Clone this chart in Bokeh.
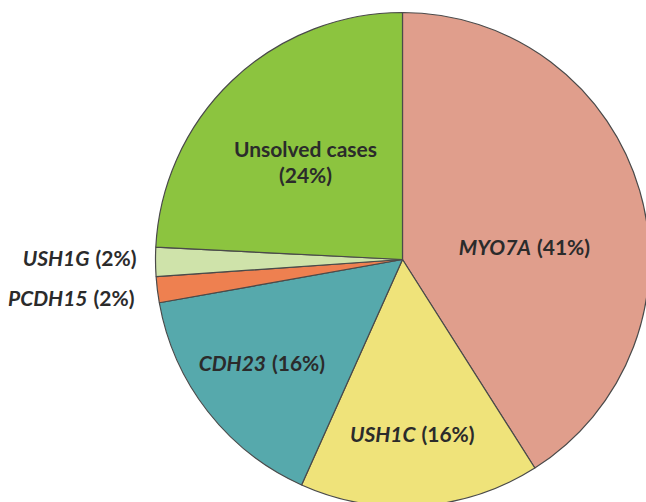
import math
from bokeh.plotting import figure
from bokeh.models import ColumnDataSource
from bokeh.core.properties import value
from bokeh.embed import file_html
from bokeh.resources import INLINE

# ---- data ----
genes = ["MYO7A", "USH1C", "CDH23", "PCDH15", "USH1G", "Unsolved cases"]
shares = [41.0, 15.7, 15.5, 1.7, 1.9, 24.2]          # slice sizes
label_pct = ["(41%)", "(16%)", "(16%)", "(2%)", "(2%)", "(24%)"]
colors = ["#E09E8C", "#EFE37A", "#56A9AC", "#EE8050", "#CFE3AA", "#8CC43F"]

# ---- layout (unit circle, radius 1 = 247 px) ----
W, H = 646, 502
R_PX = 247.0
CX, CY = 402.0, 259.0
x0, x1 = -CX / R_PX, (W - CX) / R_PX
y1, y0 = CY / R_PX, -(H - CY) / R_PX

total = sum(shares)
starts, ends = [], []
acc = 0.0
for s in shares:
    a0 = acc / total * 2 * math.pi
    acc += s
    a1 = acc / total * 2 * math.pi
    starts.append(math.pi / 2 - a0)
    ends.append(math.pi / 2 - a1)

src = ColumnDataSource(dict(start=starts, end=ends, color=colors, gene=genes))

p = figure(width=W, height=H, x_range=(x0, x1), y_range=(y0, y1),
           output_backend="svg", toolbar_location=None, min_border=0,
           background_fill_color="white", border_fill_color="white")
p.axis.visible = False
p.grid.visible = False
p.outline_line_color = None

p.wedge(x=0, y=0, radius=1.0, start_angle="start", end_angle="end",
        direction="clock", fill_color="color", line_color="#4a4a4a",
        line_width=1.2, source=src)

FONT = value("Lato")
TXT = "#2b2b2b"
FS = "21px"

def px(xp, yp):
    return ((xp - CX) / R_PX, (CY - yp) / R_PX)

# split-point label placement (gene italic to the left, percent upright to the right)
split_pts = {"MYO7A": (533.5, 246), "USH1C": (418, 433), "CDH23": (268.5, 362),
             "USH1G": (92, 257), "PCDH15": (90, 297)}
gx, gy, gt, qx, qy, qt = [], [], [], [], [], []
for g, pct in zip(genes, label_pct):
    if g in split_pts:
        sx, sy = split_pts[g]
        a, b = px(sx - 3, sy)
        c, d = px(sx + 3, sy)
        gx.append(a); gy.append(b); gt.append(g)
        qx.append(c); qy.append(d); qt.append(pct)

p.text(x=gx, y=gy, text=gt, text_align="right", text_baseline="middle",
       text_font=FONT, text_font_size=FS, text_font_style="bold italic",
       text_color=TXT)
p.text(x=qx, y=qy, text=qt, text_align="left", text_baseline="middle",
       text_font=FONT, text_font_size=FS, text_font_style="bold",
       text_color=TXT)

ux, uy = px(305, 148)
vx, vy = px(305, 174)
p.text(x=[ux, vx], y=[uy, vy], text=[genes[5], label_pct[5]], text_align="center",
       text_baseline="middle", text_font=FONT, text_font_size=FS,
       text_font_style="bold", text_color=TXT)

open("out.html", "w").write(file_html(p, INLINE))
